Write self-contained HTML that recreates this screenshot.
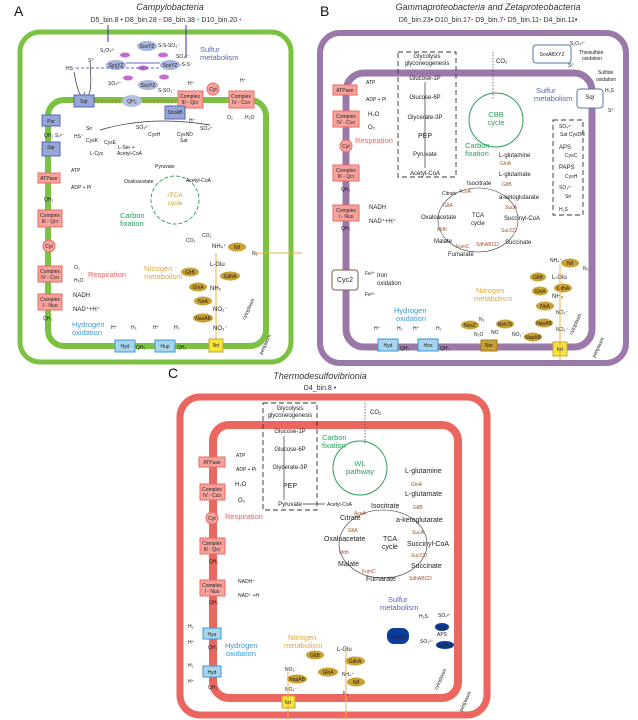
<!DOCTYPE html>
<html><head><meta charset="utf-8"><style>
html,body{margin:0;padding:0;background:#fff;}
svg{display:block;font-family:"Liberation Sans",sans-serif;}
.t{font-size:6px;fill:#222;}
.s{font-size:5px;fill:#222;}
.m{font-size:7px;fill:#222;}
.g{font-size:5px;fill:#a0522d;}
.blu{fill:#5565b5;font-size:7.5px;}
.grn{fill:#2aa05a;font-size:7.5px;}
.red{fill:#f06060;font-size:7.5px;}
.org{fill:#e0a840;font-size:7.5px;}
.hyd{fill:#3a98d8;font-size:7.5px;}
.rb{fill:#f6a39d;stroke:#ee6a62;stroke-width:1;}
.bb{fill:#97a6d6;stroke:#5565b5;stroke-width:1;}
.cb{fill:#a8d4ec;stroke:#3a98d8;stroke-width:1;}
.ge{fill:#c9a132;}
.ln{stroke:#333;stroke-width:.7;fill:none;}
.dsh{stroke:#333;stroke-width:.9;fill:none;stroke-dasharray:5 3;}
</style></head><body>
<svg width="638" height="720" viewBox="0 0 638 720" xmlns="http://www.w3.org/2000/svg">
<!-- ============ PANEL A ============ -->
<text x="14" y="16" font-size="14" fill="#111">A</text>
<text x="170" y="10" text-anchor="middle" font-size="9" font-style="italic" fill="#333">Campylobacteria</text>
<text x="166" y="22" text-anchor="middle" font-size="7" fill="#333">D5_bin.8 <tspan fill="#33a">•</tspan> D8_bin.28 <tspan fill="#e6e">•</tspan> D8_bin.38 <tspan fill="#3cc">•</tspan> D10_bin.20 <tspan fill="#a5e">•</tspan></text>
<rect x="20" y="32" width="271" height="330" rx="20" fill="none" stroke="#7cc242" stroke-width="5"/>
<rect x="48" y="100" width="218" height="246" rx="16" fill="none" stroke="#7cc242" stroke-width="6"/>
<line x1="108" y1="25" x2="108" y2="42" stroke="#33a" stroke-width="1"/>
<line x1="186" y1="25" x2="186" y2="58" stroke="#33a" stroke-width="1"/>
<text x="200" y="52" class="blu">Sulfur</text><text x="200" y="60" class="blu">metabolism</text>
<ellipse cx="147" cy="46" rx="10" ry="5" fill="#a8b4dc"/><text x="147" y="48" class="s" text-anchor="middle">SoxYZ</text>
<ellipse cx="116" cy="65" rx="10" ry="5" fill="#a8b4dc"/><text x="116" y="67" class="s" text-anchor="middle">SoxYZ</text>
<ellipse cx="170" cy="65" rx="10" ry="5" fill="#a8b4dc"/><text x="170" y="67" class="s" text-anchor="middle">SoxYZ</text>
<ellipse cx="148" cy="85" rx="10" ry="5" fill="#a8b4dc"/><text x="148" y="87" class="s" text-anchor="middle">SoxYZ</text>
<ellipse cx="125" cy="55" rx="5" ry="2.5" fill="#c96ad0"/><ellipse cx="163" cy="55" rx="5" ry="2.5" fill="#c96ad0"/><ellipse cx="143" cy="68" rx="5" ry="2.5" fill="#c96ad0"/><ellipse cx="128" cy="78" rx="5" ry="2.5" fill="#c96ad0"/><ellipse cx="164" cy="77" rx="5" ry="2.5" fill="#c96ad0"/>
<text x="100" y="52" class="s">S₂O₃²⁻</text><text x="158" y="47" class="s">S-S-SO₃⁻</text><text x="176" y="58" class="s">SO₄²⁻</text>
<text x="66" y="70" class="s">HS⁻</text><text x="88" y="62" class="s">S⁰</text><text x="180" y="66" class="s">-S-S⁻</text>
<text x="108" y="85" class="s">SO₃²⁻</text><text x="158" y="92" class="s">S-SO₃⁻</text>
<line x1="76" y1="68" x2="160" y2="68" stroke="#33a" stroke-width=".8" stroke-dasharray="3 2"/>
<line x1="126" y1="63" x2="160" y2="63" stroke="#33a" stroke-width=".8"/>
<path d="M74 72 Q 80 105 85 92 M 90 62 Q 93 100 85 95" class="ln"/>
<rect x="74" y="95" width="20" height="12" class="bb"/><text x="84" y="103" class="s" text-anchor="middle">Sqr</text>
<ellipse cx="132" cy="101" rx="10" ry="6" fill="#b5bfe0"/><text x="132" y="103" class="s" text-anchor="middle">QH₂</text>
<line x1="94" y1="101" x2="121" y2="101" stroke="#e33" stroke-width=".8" stroke-dasharray="2 1.5"/>
<line x1="143" y1="101" x2="178" y2="101" stroke="#e33" stroke-width=".8" stroke-dasharray="2 1.5"/>
<rect x="178" y="91" width="25" height="17" class="rb"/><text x="190" y="98" class="s" text-anchor="middle">Complex</text><text x="190" y="104" class="s" text-anchor="middle">III - Qcr</text>
<circle cx="213" cy="89" r="6" class="rb"/><text x="213" y="91" class="s" text-anchor="middle">Cyt</text>
<rect x="229" y="91" width="25" height="17" class="rb"/><text x="241" y="98" class="s" text-anchor="middle">Complex</text><text x="241" y="104" class="s" text-anchor="middle">IV - Cco</text>
<text x="188" y="85" class="s">H⁺</text><text x="240" y="82" class="s">H⁺</text><text x="189" y="122" class="s">H⁺</text><text x="227" y="119" class="s">O₂</text><text x="245" y="119" class="s">H₂O</text>
<rect x="165" y="106" width="20" height="13" class="bb"/><text x="175" y="114" class="s" text-anchor="middle">SoxAB</text>
<rect x="42" y="115" width="18" height="11" class="bb"/><text x="51" y="123" class="s" text-anchor="middle">Psr</text>
<rect x="42" y="142" width="18" height="14" class="bb"/><text x="51" y="149" class="s" text-anchor="middle">Sqr</text>
<text x="44" y="137" class="s">QH₂ S₂²⁻</text>
<text x="74" y="138" class="s">HS⁻</text><text x="86" y="130" class="s">Sir</text><text x="136" y="129" class="s">SO₃²⁻</text><text x="200" y="130" class="s">SO₄²⁻</text>
<path d="M100 130 Q 150 115 210 125" class="ln" stroke="#33a"/>
<text x="148" y="136" class="s">CysH</text><text x="177" y="136" class="s">CysND</text><text x="180" y="142" class="s">Sat</text>
<text x="86" y="142" class="s">CysK</text><text x="104" y="144" class="s">CysE</text><text x="118" y="149" class="s">L-Ser +</text><text x="117" y="155" class="s">Acetyl-CoA</text><text x="90" y="155" class="s">L-Cys</text>
<rect x="38" y="173" width="22" height="10" class="rb"/><text x="49" y="180" class="s" text-anchor="middle">ATPase</text>
<text x="71" y="172" class="s">ATP</text><text x="71" y="189" class="s">ADP + Pi</text>
<text x="44" y="201" class="s">QH₂</text>
<rect x="38" y="210" width="24" height="17" class="rb"/><text x="50" y="217" class="s" text-anchor="middle">Complex</text><text x="50" y="223" class="s" text-anchor="middle">III - Qcr</text>
<circle cx="49" cy="246" r="6" class="rb"/><text x="49" y="248" class="s" text-anchor="middle">Cyt</text>
<rect x="38" y="266" width="24" height="16" class="rb"/><text x="50" y="273" class="s" text-anchor="middle">Complex</text><text x="50" y="279" class="s" text-anchor="middle">IV - Cco</text>
<text x="74" y="269" class="s">O₂</text><text x="74" y="282" class="s">H₂O</text><text x="88" y="277" class="red">Respiration</text>
<rect x="38" y="294" width="24" height="16" class="rb"/><text x="50" y="301" class="s" text-anchor="middle">Complex</text><text x="50" y="307" class="s" text-anchor="middle">I - Nuo</text>
<text x="73" y="297" class="t">NADH</text><text x="73" y="311" class="t">NAD⁺+H⁺</text><text x="43" y="320" class="s">QH₂</text>
<circle cx="175" cy="200" r="24" fill="none" stroke="#2aa05a" stroke-width=".9" stroke-dasharray="4 2"/>
<text x="175" y="197" text-anchor="middle" font-size="6.5" fill="#c8a030">rTCA</text><text x="175" y="205" text-anchor="middle" font-size="6.5" fill="#c8a030">cycle</text>
<text x="155" y="168" class="s">Pyruvate</text><text x="186" y="182" class="s">Acetyl-CoA</text><text x="124" y="183" class="s">Oxaloacetate</text>
<text x="120" y="218" class="grn">Carbon</text><text x="120" y="226" class="grn">fixation</text><text x="202" y="237" class="s">CO₂</text><text x="186" y="242" class="s">CO₂</text>
<text x="212" y="248" class="t">NH₄⁺</text><ellipse cx="237" cy="247" rx="9" ry="4.5" class="ge"/><text x="237" y="249" class="s" text-anchor="middle">Nif</text><text x="252" y="255" class="s">N₂</text>
<line x1="302" y1="253" x2="255" y2="253" stroke="#e8b04a" stroke-width="1"/>
<line x1="216" y1="253" x2="216" y2="345" stroke="#e8b04a" stroke-width="1"/>
<text x="144" y="271" class="org">Nitrogen</text><text x="144" y="279" class="org">metabolism</text>
<text x="210" y="266" class="t">L-Glu</text>
<ellipse cx="190" cy="272" rx="9" ry="4.5" class="ge"/><text x="190" y="274" class="s" text-anchor="middle">GltB</text>
<ellipse cx="230" cy="276" rx="10" ry="4.5" class="ge"/><text x="230" y="278" class="s" text-anchor="middle">GdhA</text>
<ellipse cx="198" cy="287" rx="9" ry="4.5" class="ge"/><text x="198" y="289" class="s" text-anchor="middle">GlnA</text>
<text x="210" y="290" class="t">NH₃</text>
<ellipse cx="203" cy="301" rx="9" ry="4.5" class="ge"/><text x="203" y="303" class="s" text-anchor="middle">NirA</text><text x="213" y="311" class="t">NO₂⁻</text>
<ellipse cx="203" cy="318" rx="10" ry="4.5" class="ge"/><text x="203" y="320" class="s" text-anchor="middle">NasAB</text><text x="213" y="330" class="t">NO₃⁻</text>
<rect x="209" y="339" width="14" height="13" fill="#f5e43a" stroke="#c9a132"/><text x="216" y="347" class="s" text-anchor="middle">Nrt</text>
<text x="72" y="327" class="hyd">Hydrogen</text><text x="72" y="335" class="hyd">oxidation</text>
<text x="111" y="329" class="s">H⁺</text><text x="131" y="329" class="s">H₂</text><text x="153" y="329" class="s">H⁺</text><text x="174" y="329" class="s">H₂</text>
<rect x="115" y="340" width="20" height="12" class="cb"/><text x="125" y="348" class="s" text-anchor="middle">Hyd</text><text x="136" y="349" class="s">QH₂</text>
<rect x="155" y="340" width="20" height="12" class="cb"/><text x="165" y="348" class="s" text-anchor="middle">Hup</text><text x="177" y="349" class="s">QH₂</text>
<text x="245" y="320" class="s" transform="rotate(-65 245 320)">cytoplasm</text>
<text x="262" y="355" class="s" transform="rotate(-65 262 355)">periplasm</text>

<!-- ============ PANEL B ============ -->
<text x="320" y="16" font-size="14" fill="#111">B</text>
<text x="488" y="10" text-anchor="middle" font-size="9" font-style="italic" fill="#333">Gammaproteobacteria and Zetaproteobacteria</text>
<text x="488" y="22" text-anchor="middle" font-size="7" fill="#333">D6_bin.23<tspan fill="#222">•</tspan> D10_bin.17<tspan fill="#e6e">•</tspan> D9_bin.7<tspan fill="#a5e">•</tspan> D5_bin.11<tspan fill="#2d2">•</tspan> D4_bin.11<tspan fill="#222">•</tspan></text>
<rect x="320" y="33" width="306" height="330" rx="20" fill="none" stroke="#9a78a8" stroke-width="6"/>
<rect x="346" y="73" width="246" height="274" rx="18" fill="none" stroke="#9a78a8" stroke-width="7"/>
<rect x="398" y="52" width="58" height="125" class="dsh"/>
<text x="427" y="58" class="t" text-anchor="middle">Glycolysis</text><text x="427" y="65" class="t" text-anchor="middle">glyconeogenesis</text>
<text x="425" y="80" class="t" text-anchor="middle">Glucose-1P</text><text x="425" y="99" class="t" text-anchor="middle">Glucose-6P</text><text x="425" y="119" class="t" text-anchor="middle">Glycerate-3P</text><text x="425" y="138" class="m" text-anchor="middle">PEP</text><text x="425" y="156" class="t" text-anchor="middle">Pyruvate</text><text x="425" y="175" class="t" text-anchor="middle">Acetyl-CoA</text>
<line x1="425" y1="82" x2="425" y2="168" class="ln"/>
<text x="496" y="63" class="t">CO₂</text><line x1="493" y1="52" x2="493" y2="100" stroke="#555" stroke-width=".8" stroke-dasharray="1.5 1.5"/>
<circle cx="496" cy="120" r="27" fill="none" stroke="#2aa05a" stroke-width="1"/>
<text x="496" y="117" text-anchor="middle" class="grn">CBB</text><text x="496" y="125" text-anchor="middle" class="grn">cycle</text>
<text x="465" y="148" class="grn">Carbon</text><text x="465" y="156" class="grn">fixation</text>
<rect x="533" y="45" width="38" height="18" rx="3" fill="#fff" stroke="#5a7aa0"/><text x="552" y="56" class="s" text-anchor="middle" fill="#5565b5">SoxABXYZ</text>
<text x="570" y="45" class="s">S₂O₃²⁻</text><text x="579" y="54" class="s">Thiosulfate</text><text x="582" y="60" class="s">oxidation</text><text x="568" y="67" class="s">S⁰</text>
<text x="598" y="74" class="s">Sulfide</text><text x="596" y="81" class="s">oxidation</text>
<text x="536" y="93" class="blu">Sulfur</text><text x="534" y="101" class="blu">metabolism</text>
<rect x="577" y="89" width="26" height="19" rx="3" fill="#fff" stroke="#5a7aa0"/><text x="590" y="99" class="t" text-anchor="middle" fill="#5565b5">Sqr</text>
<text x="605" y="92" class="s">H₂S</text><text x="608" y="112" class="s">S⁰</text>
<rect x="553" y="120" width="30" height="95" class="dsh"/>
<text x="559" y="128" class="s">SO₄²⁻</text><text x="559" y="149" class="t">APS</text><text x="559" y="169" class="t">PAPS</text><text x="559" y="189" class="s">SO₃²⁻</text><text x="559" y="211" class="s">H₂S</text>
<text x="560" y="136" class="s" fill="#5565b5">Sat CysDN</text><text x="565" y="157" class="s" fill="#5565b5">CysC</text><text x="565" y="178" class="s" fill="#5565b5">CysH</text><text x="565" y="198" class="s" fill="#5565b5">Sir</text>
<text x="499" y="157" class="t">L-glutamine</text><text x="499" y="176" class="t">L-glutamate</text><text x="499" y="199" class="t">a-ketoglutarate</text>
<text x="500" y="165" class="g">GlnA</text><text x="502" y="186" class="g">GltB</text>
<text x="467" y="185" class="t">Isocitrate</text><text x="442" y="195" class="s">Citrate</text><text x="459" y="193" class="g">AcnA</text><text x="443" y="207" class="g">GltA</text>
<text x="421" y="219" class="t">Oxaloacetate</text><text x="472" y="217" class="t">TCA</text><text x="471" y="225" class="t">cycle</text>
<text x="504" y="220" class="t">Succinyl-CoA</text><text x="505" y="209" class="g">SucA</text><text x="501" y="232" class="g">SucCD</text>
<text x="505" y="244" class="t">Succinate</text><text x="476" y="246" class="g">SdhABCD</text>
<text x="448" y="256" class="t">Fumarate</text><text x="456" y="248" class="g">FumC</text><text x="434" y="243" class="t">Malate</text><text x="437" y="231" class="g">Mdh</text>
<ellipse cx="478" cy="220" rx="40" ry="32" fill="none" stroke="#333" stroke-width=".6"/>
<rect x="333" y="85" width="24" height="10" class="rb"/><text x="345" y="92" class="s" text-anchor="middle">ATPase</text>
<text x="366" y="84" class="s">ATP</text><text x="366" y="101" class="s">ADP + Pi</text>
<rect x="333" y="111" width="26" height="16" class="rb"/><text x="346" y="118" class="s" text-anchor="middle">Complex</text><text x="346" y="124" class="s" text-anchor="middle">IV - Cco</text>
<text x="368" y="116" class="t">H₂O</text><text x="368" y="129" class="t">O₂</text><text x="355" y="143" class="red">Respiration</text>
<circle cx="346" cy="146" r="6" class="rb"/><text x="346" y="148" class="s" text-anchor="middle">Cyt</text>
<rect x="333" y="165" width="26" height="16" class="rb"/><text x="346" y="172" class="s" text-anchor="middle">Complex</text><text x="346" y="178" class="s" text-anchor="middle">III - Qcr</text><text x="341" y="191" class="s">QH₂</text>
<rect x="333" y="205" width="26" height="16" class="rb"/><text x="346" y="212" class="s" text-anchor="middle">Complex</text><text x="346" y="218" class="s" text-anchor="middle">I - Nuo</text><text x="341" y="230" class="s">QH₂</text>
<text x="369" y="209" class="t">NADH</text><text x="369" y="223" class="t">NAD⁺+H⁺</text>
<rect x="332" y="270" width="26" height="20" rx="3" fill="#fff" stroke="#8a5a4a"/><text x="345" y="282" class="m" text-anchor="middle">Cyc2</text>
<text x="365" y="275" class="s">Fe²⁺</text><text x="365" y="296" class="s">Fe³⁺</text><text x="377" y="277" class="t" fill="#a0522d">Iron</text><text x="377" y="285" class="t" fill="#a0522d">oxidation</text>
<text x="394" y="313" class="hyd">Hydrogen</text><text x="396" y="321" class="hyd">oxidation</text>
<text x="374" y="330" class="s">H⁺</text><text x="397" y="330" class="s">H₂</text><text x="413" y="330" class="s">H⁺</text><text x="436" y="330" class="s">H₂</text>
<rect x="378" y="339" width="20" height="12" class="cb"/><text x="388" y="347" class="s" text-anchor="middle">Hyd</text><text x="400" y="350" class="s">QH₂</text>
<rect x="418" y="339" width="20" height="12" class="cb"/><text x="428" y="347" class="s" text-anchor="middle">Hox</text><text x="440" y="350" class="s">QH₂</text>
<text x="476" y="293" class="org">Nitrogen</text><text x="474" y="301" class="org">metabolism</text>
<text x="550" y="262" class="s">NH₄⁺</text><ellipse cx="570" cy="263" rx="9" ry="4.5" class="ge"/><text x="570" y="265" class="s" text-anchor="middle">Nif</text><text x="583" y="270" class="s">N₂</text>
<ellipse cx="538" cy="277" rx="8" ry="4.5" class="ge"/><text x="538" y="279" class="s" text-anchor="middle">GltB</text><text x="552" y="279" class="t">L-Glu</text>
<ellipse cx="563" cy="288" rx="9" ry="4.5" class="ge"/><text x="563" y="290" class="s" text-anchor="middle">GdhA</text>
<ellipse cx="540" cy="291" rx="8" ry="4.5" class="ge"/><text x="540" y="293" class="s" text-anchor="middle">GlnA</text><text x="552" y="298" class="t">NH₃</text>
<ellipse cx="545" cy="306" rx="9" ry="4.5" class="ge"/><text x="545" y="308" class="s" text-anchor="middle">NirA</text><text x="556" y="314" class="s">NO₂⁻</text>
<ellipse cx="544" cy="323" rx="9" ry="4.5" class="ge"/><text x="544" y="325" class="s" text-anchor="middle">NasAB</text><text x="556" y="331" class="s">NO₃⁻</text>
<ellipse cx="533" cy="337" rx="9" ry="4.5" class="ge"/><text x="533" y="339" class="s" text-anchor="middle">NapAB</text>
<ellipse cx="505" cy="324" rx="9" ry="4.5" class="ge"/><text x="505" y="326" class="s" text-anchor="middle">NirK/S</text>
<ellipse cx="470" cy="325" rx="9" ry="4.5" class="ge"/><text x="470" y="327" class="s" text-anchor="middle">NosZ</text>
<text x="479" y="321" class="s">N₂</text><text x="474" y="336" class="s">N₂O</text><text x="491" y="334" class="s">NO</text><text x="512" y="336" class="s">NO₂⁻</text>
<rect x="481" y="340" width="16" height="11" fill="#c9a132" stroke="#a07a20"/><text x="489" y="347" class="s" text-anchor="middle">Nor</text>
<rect x="553" y="342" width="14" height="14" fill="#f5e43a" stroke="#c9a132"/><text x="560" y="351" class="s" text-anchor="middle">Nrt</text>
<line x1="560" y1="265" x2="560" y2="360" stroke="#e8b04a" stroke-width="1"/>
<text x="572" y="335" class="s" transform="rotate(-65 572 335)">cytoplasm</text>
<text x="595" y="358" class="s" transform="rotate(-65 595 358)">periplasm</text>

<!-- ============ PANEL C ============ -->
<text x="168" y="378" font-size="14" fill="#111">C</text>
<text x="320" y="379" text-anchor="middle" font-size="9" font-style="italic" fill="#333">Thermodesulfovibrionia</text>
<text x="320" y="390" text-anchor="middle" font-size="7" fill="#333">D4_bin.8 <tspan fill="#33a">•</tspan></text>
<rect x="180" y="397" width="307" height="318" rx="20" fill="none" stroke="#ec6660" stroke-width="7"/>
<rect x="213" y="425" width="245" height="273" rx="16" fill="none" stroke="#ec6660" stroke-width="8"/>
<rect x="263" y="403" width="54" height="107" class="dsh"/>
<text x="290" y="410" class="t" text-anchor="middle">Glycolysis</text><text x="290" y="417" class="t" text-anchor="middle">glyconeogenesis</text>
<text x="290" y="433" class="t" text-anchor="middle">Glucose-1P</text><text x="290" y="451" class="t" text-anchor="middle">Glucose-6P</text><text x="290" y="469" class="t" text-anchor="middle">Glycerate-3P</text><text x="290" y="488" class="m" text-anchor="middle">PEP</text><text x="290" y="506" class="t" text-anchor="middle">Pyruvate</text>
<line x1="284" y1="436" x2="284" y2="500" class="ln"/>
<line x1="303" y1="504" x2="325" y2="504" class="ln"/>
<text x="327" y="506" class="s">Acetyl-CoA</text>
<text x="370" y="414" class="t">CO₂</text><line x1="365" y1="403" x2="365" y2="445" stroke="#555" stroke-width=".8" stroke-dasharray="1.5 1.5"/>
<text x="322" y="440" class="grn">Carbon</text><text x="322" y="448" class="grn">fixation</text>
<circle cx="360" cy="468" r="27" fill="none" stroke="#2aa05a" stroke-width="1"/>
<text x="360" y="466" text-anchor="middle" class="grn">WL</text><text x="360" y="474" text-anchor="middle" class="grn">pathway</text>
<text x="405" y="473" class="m">L-glutamine</text><text x="411" y="486" class="g">GlnA</text><text x="405" y="496" class="m">L-glutamate</text><text x="413" y="509" class="g">GltB</text>
<text x="396" y="522" class="m">a-ketoglutarate</text><text x="371" y="508" class="m">Isocitrate</text><text x="354" y="515" class="g">AcnA</text><text x="340" y="520" class="m">Citrate</text><text x="348" y="532" class="g">GltA</text>
<text x="324" y="541" class="m">Oxaloacetate</text><text x="383" y="541" class="m">TCA</text><text x="382" y="549" class="m">cycle</text>
<text x="407" y="546" class="m">Succinyl-CoA</text><text x="412" y="534" class="g">SucA</text><text x="411" y="557" class="g">SucCD</text>
<text x="411" y="568" class="m">Succinate</text><text x="409" y="580" class="g">SdhABCD</text>
<text x="366" y="581" class="m">Fumarate</text><text x="362" y="573" class="g">FumC</text><text x="338" y="566" class="m">Malate</text><text x="339" y="554" class="g">Mdh</text>
<ellipse cx="383" cy="544" rx="44" ry="34" fill="none" stroke="#333" stroke-width=".6"/>
<rect x="199" y="457" width="26" height="10" class="rb"/><text x="212" y="464" class="s" text-anchor="middle">ATPase</text>
<text x="236" y="457" class="s">ATP</text><text x="236" y="471" class="s">ADP + Pi</text>
<rect x="200" y="484" width="25" height="16" class="rb"/><text x="212" y="491" class="s" text-anchor="middle">Complex</text><text x="212" y="497" class="s" text-anchor="middle">IV - Cco</text>
<text x="235" y="486" class="t">H₂O</text><text x="238" y="502" class="t">O₂</text><text x="225" y="519" class="red">Respiration</text>
<circle cx="212" cy="518" r="6" class="rb"/><text x="212" y="520" class="s" text-anchor="middle">Cyt</text>
<rect x="200" y="538" width="25" height="16" class="rb"/><text x="212" y="545" class="s" text-anchor="middle">Complex</text><text x="212" y="551" class="s" text-anchor="middle">III - Qcr</text><text x="209" y="563" class="s">QH₂</text>
<rect x="200" y="580" width="25" height="16" class="rb"/><text x="212" y="587" class="s" text-anchor="middle">Complex</text><text x="212" y="593" class="s" text-anchor="middle">I - Nuo</text><text x="209" y="604" class="s">QH₂</text>
<text x="238" y="583" class="s">NADH⁺</text><text x="238" y="597" class="s">NAD⁺ +H</text>
<text x="188" y="628" class="s">H₂</text><text x="188" y="644" class="s">H⁺</text>
<rect x="203" y="628" width="18" height="11" class="cb"/><text x="212" y="636" class="s" text-anchor="middle">Hya</text><text x="208" y="649" class="s">QH₂</text>
<text x="225" y="648" class="hyd">Hydrogen</text><text x="226" y="656" class="hyd">oxidation</text>
<text x="188" y="667" class="s">H₂</text><text x="188" y="683" class="s">H⁺</text>
<rect x="203" y="666" width="18" height="11" class="cb"/><text x="212" y="674" class="s" text-anchor="middle">Hyd</text><text x="208" y="689" class="s">QH₂</text>
<text x="388" y="602" class="blu">Sulfur</text><text x="380" y="610" class="blu">metabolism</text>
<rect x="387" y="628" width="22" height="16" rx="7" fill="#0a3ca0"/><text x="398" y="639" class="s" text-anchor="middle" fill="#fff">DsrAB</text>
<text x="419" y="618" class="s">H₂S</text><text x="438" y="617" class="s">SO₄²⁻</text><text x="420" y="643" class="s">SO₃²⁻</text><text x="437" y="636" class="s">APS</text>
<ellipse cx="442" cy="627" rx="7" ry="4" fill="#0a3ca0"/><text x="442" y="629" class="s" text-anchor="middle" fill="#fff">Sat</text>
<ellipse cx="445" cy="645" rx="9" ry="4" fill="#0a3ca0"/><text x="445" y="647" class="s" text-anchor="middle" fill="#fff">AprAB</text>
<text x="288" y="640" class="org">Nitrogen</text><text x="284" y="648" class="org">metabolism</text>
<text x="337" y="651" class="t">L-Glu</text>
<ellipse cx="315" cy="655" rx="9" ry="4.5" class="ge"/><text x="315" y="657" class="s" text-anchor="middle">GltB</text>
<ellipse cx="355" cy="661" rx="10" ry="4.5" class="ge"/><text x="355" y="663" class="s" text-anchor="middle">GdhA</text>
<ellipse cx="328" cy="672" rx="10" ry="4.5" class="ge"/><text x="328" y="674" class="s" text-anchor="middle" fill="#e33">GlnA</text>
<text x="342" y="676" class="s">NH₄⁺</text>
<ellipse cx="356" cy="682" rx="9" ry="4.5" class="ge"/><text x="356" y="684" class="s" text-anchor="middle">Nif</text><text x="343" y="695" class="s">N₂</text>
<line x1="346" y1="650" x2="346" y2="720" stroke="#e8b04a" stroke-width="1"/>
<text x="285" y="671" class="s">NO₃⁻</text>
<ellipse cx="297" cy="679" rx="10" ry="4.5" class="ge"/><text x="297" y="681" class="s" text-anchor="middle">NapAB</text>
<text x="285" y="691" class="s">NO₃⁻</text>
<rect x="282" y="696" width="13" height="12" fill="#f5e43a" stroke="#c9a132"/><text x="288" y="704" class="s" text-anchor="middle">Nrt</text>
<line x1="288" y1="672" x2="288" y2="720" stroke="#e8b04a" stroke-width="1"/>
<text x="437" y="690" class="s" transform="rotate(-65 437 690)">cytoplasm</text>
<text x="462" y="712" class="s" transform="rotate(-65 462 712)">periplasm</text>
</svg>
</body></html>
